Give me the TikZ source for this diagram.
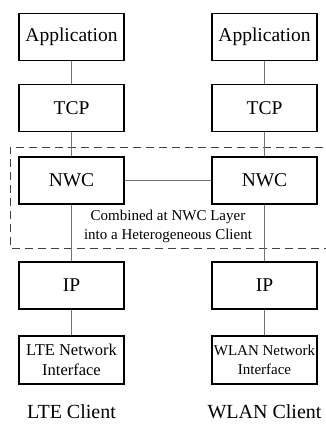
\documentclass[tikz,border=0pt]{standalone}
\usepackage{fontspec}
\setmainfont{Liberation Serif}
\begin{document}
\begin{tikzpicture}[x=1pt,y=-1pt,
  layer/.style={draw=black,line width=1.3pt,minimum width=105pt,minimum height=47pt,inner sep=0pt,font=\fontsize{19.5}{22}\selectfont},
  iface/.style={draw=black,line width=1.3pt,minimum width=105pt,minimum height=48pt,inner sep=0pt,align=center},
  conn/.style={draw=black!55,line width=0.9pt},
  group/.style={draw=black!75,line width=0.9pt,dash pattern=on 8pt off 5pt},
  caption/.style={font=\fontsize{20}{24}\selectfont}]
\useasboundingbox (0,0) rectangle (326,424);
\draw[group] (336,147) -- (10,147) -- (10,248) -- (336,248);
\node[layer] (appL) at (71.5,37) {Application};
\node[layer] (tcpL) at (71.5,108) {TCP};
\node[layer] (nwcL) at (71.5,180.5) {NWC};
\node[layer] (ipL) at (71.5,285.5) {IP};
\node[iface,font=\fontsize{16.5}{20}\selectfont] (ifL) at (71.5,360) {LTE Network\\Interface};
\node[layer] (appR) at (264.5,37) {Application};
\node[layer] (tcpR) at (264.5,108) {TCP};
\node[layer] (nwcR) at (264.5,180.5) {NWC};
\node[layer] (ipR) at (264.5,285.5) {IP};
\node[iface,font=\fontsize{15}{19}\selectfont] (ifR) at (264.5,360) {WLAN Network\\Interface};
\draw[conn] (appL) -- (tcpL);
\draw[conn] (tcpL) -- (nwcL);
\draw[conn] (nwcL) -- (ipL);
\draw[conn] (ipL) -- (ifL);
\draw[conn] (appR) -- (tcpR);
\draw[conn] (tcpR) -- (nwcR);
\draw[conn] (nwcR) -- (ipR);
\draw[conn] (ipR) -- (ifR);
\draw[conn] (nwcL) -- (nwcR);
\node[align=center,font=\fontsize{15}{19}\selectfont,inner sep=0pt] (comb) at (168,226.5) {Combined at NWC Layer\\into a Heterogeneous Client};
\node[caption] (capL) at (71.5,412) {LTE Client};
\node[caption] (capR) at (264.5,412) {WLAN Client};
\end{tikzpicture}
\end{document}
